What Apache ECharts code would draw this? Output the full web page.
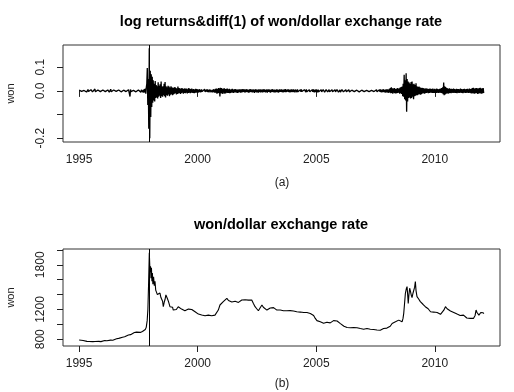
<!DOCTYPE html>
<html>
<head>
<meta charset="utf-8">
<script src="https://cdn.jsdelivr.net/npm/echarts@6/dist/echarts.min.js"></script>
<style>
  html, body { margin: 0; padding: 0; background: #fff; }
  #chart { width: 514px; height: 392px; }
</style>
</head>
<body>
<div id="chart"></div>
<script>
// log returns, weekly-ish (ts start 1995, frequency 48)
const retStart = 1995;
const retFreq = 48;
const logRet = [
  // 1995
  0.003,-0.004,0.002,-0.005,0.004,-0.002,0.001,-0.003,0.005,-0.004,0.002,-0.003,
  0.004,-0.002,0.003,-0.005,0.002,-0.004,0.006,-0.003,0.002,-0.004,0.003,-0.002,
  0.005,-0.003,0.001,-0.004,0.003,-0.005,0.002,-0.002,0.008,-0.004,0.003,-0.003,
  0.002,-0.005,0.004,-0.002,0.003,-0.004,0.005,-0.003,0.002,-0.004,0.003,-0.005,
  // 1996
  0.004,-0.002,0.003,-0.004,0.002,-0.003,0.005,-0.004,0.001,-0.003,0.004,-0.002,
  0.003,-0.005,0.002,-0.003,0.007,-0.004,0.002,-0.002,0.003,-0.005,0.004,-0.003,
  0.002,-0.004,0.005,-0.002,0.003,-0.003,0.002,-0.005,0.004,-0.003,0.006,-0.002,
  0.003,-0.004,0.002,-0.005,0.004,-0.003,0.003,-0.002,0.005,-0.004,0.002,-0.003,
  // 1997
  0.003,-0.004,0.002,-0.003,0.005,-0.002,0.004,-0.024,0.006,-0.003,0.002,-0.004,
  0.004,-0.003,0.002,-0.005,0.003,-0.002,0.006,-0.004,0.003,-0.003,0.002,-0.005,
  0.004,-0.002,0.005,-0.004,0.003,-0.006,0.004,-0.003,0.006,-0.005,0.004,-0.007,
  0.008,-0.006,0.010,-0.012,0.015,0.030,0.097,-0.060,0.050,-0.160,0.180,-0.200,
  // 1998
  0.085,-0.110,0.070,-0.068,0.060,-0.050,0.045,-0.040,0.030,-0.045,0.042,-0.030,
  0.025,-0.028,0.020,-0.032,0.036,-0.025,0.022,-0.020,0.028,-0.030,0.040,-0.022,
  0.018,-0.025,0.020,-0.018,0.030,-0.022,0.038,-0.028,0.020,-0.018,0.015,-0.020,
  0.022,-0.015,0.018,-0.022,0.014,-0.016,0.020,-0.014,0.015,-0.018,0.012,-0.015,
  // 1999
  0.014,-0.012,0.016,-0.010,0.012,-0.015,0.010,-0.013,0.018,-0.011,0.012,-0.009,
  0.011,-0.013,0.009,-0.010,0.012,-0.008,0.010,-0.012,0.008,-0.009,0.011,-0.010,
  0.009,-0.008,0.010,-0.011,0.007,-0.009,0.012,-0.008,0.009,-0.010,0.008,-0.007,
  0.010,-0.008,0.007,-0.009,0.008,-0.010,0.006,-0.008,0.009,-0.007,0.008,-0.006,
  // 2000
  0.006,-0.007,0.005,-0.004,0.007,-0.006,0.004,-0.005,0.006,-0.003,0.005,-0.006,
  0.004,-0.005,0.007,-0.004,0.003,-0.006,0.005,-0.004,0.006,-0.005,0.003,-0.004,
  0.005,-0.006,0.004,-0.003,0.006,-0.005,0.004,-0.006,0.007,-0.004,0.005,-0.008,
  0.009,-0.007,0.010,-0.012,0.008,-0.010,0.012,-0.009,0.011,-0.024,0.013,-0.010,
  // 2001
  0.012,-0.011,0.009,-0.013,0.010,-0.008,0.011,-0.012,0.008,-0.010,0.009,-0.007,
  0.010,-0.009,0.007,-0.008,0.009,-0.010,0.006,-0.008,0.007,-0.006,0.009,-0.007,
  0.006,-0.008,0.007,-0.005,0.008,-0.006,0.005,-0.007,0.006,-0.008,0.005,-0.006,
  0.007,-0.005,0.006,-0.007,0.005,-0.006,0.008,-0.005,0.006,-0.004,0.007,-0.006,
  // 2002
  0.005,-0.006,0.007,-0.004,0.006,-0.005,0.004,-0.007,0.005,-0.006,0.008,-0.004,
  0.006,-0.005,0.004,-0.006,0.007,-0.005,0.006,-0.008,0.005,-0.004,0.007,-0.006,
  0.004,-0.006,0.005,-0.007,0.006,-0.004,0.005,-0.006,0.007,-0.005,0.004,-0.006,
  0.006,-0.005,0.007,-0.004,0.005,-0.006,0.004,-0.005,0.006,-0.007,0.005,-0.004,
  // 2003
  0.006,-0.004,0.005,-0.007,0.004,-0.005,0.006,-0.004,0.007,-0.005,0.004,-0.006,
  0.005,-0.006,0.004,-0.005,0.006,-0.004,0.005,-0.007,0.004,-0.005,0.006,-0.004,
  0.005,-0.004,0.006,-0.005,0.004,-0.006,0.005,-0.004,0.006,-0.005,0.008,-0.004,
  0.004,-0.006,0.005,-0.004,0.006,-0.005,0.004,-0.006,0.005,-0.004,0.006,-0.005,
  // 2004
  0.005,-0.004,0.006,-0.005,0.004,-0.006,0.005,-0.003,0.004,-0.005,0.006,-0.004,
  0.004,-0.005,0.003,-0.006,0.005,-0.004,0.006,-0.003,0.004,-0.005,0.003,-0.004,
  0.005,-0.003,0.004,-0.005,0.006,-0.004,0.003,-0.005,0.004,-0.003,0.005,-0.004,
  0.003,-0.005,0.004,-0.006,0.005,-0.004,0.007,-0.005,0.004,-0.006,0.005,-0.004,
  // 2005
  0.006,-0.005,0.004,-0.006,0.005,-0.004,0.003,-0.005,0.004,-0.003,0.005,-0.004,
  0.003,-0.004,0.005,-0.003,0.004,-0.005,0.003,-0.004,0.005,-0.003,0.004,-0.004,
  0.004,-0.003,0.005,-0.004,0.003,-0.005,0.004,-0.003,0.005,-0.004,0.003,-0.005,
  0.004,-0.003,0.005,-0.004,0.003,-0.004,0.005,-0.003,0.004,-0.005,0.003,-0.004,
  // 2006
  0.004,-0.005,0.003,-0.004,0.005,-0.003,0.004,-0.004,0.003,-0.005,0.004,-0.003,
  0.005,-0.004,0.003,-0.004,0.004,-0.003,0.005,-0.004,0.003,-0.003,0.004,-0.005,
  0.003,-0.004,0.004,-0.003,0.005,-0.003,0.003,-0.004,0.004,-0.003,0.003,-0.004,
  0.004,-0.003,0.003,-0.004,0.003,-0.003,0.004,-0.003,0.003,-0.004,0.004,-0.003,
  // 2007
  0.003,-0.003,0.004,-0.002,0.003,-0.004,0.002,-0.003,0.003,-0.002,0.004,-0.003,
  0.002,-0.003,0.003,-0.004,0.002,-0.003,0.003,-0.002,0.003,-0.003,0.002,-0.003,
  0.004,-0.003,0.005,-0.004,0.003,-0.005,0.004,-0.006,0.005,-0.004,0.006,-0.005,
  0.004,-0.006,0.005,-0.004,0.007,-0.005,0.004,-0.006,0.005,-0.007,0.006,-0.005,
  // 2008
  0.006,-0.007,0.005,-0.008,0.009,-0.006,0.012,-0.010,0.015,-0.009,0.011,-0.012,
  0.010,-0.008,0.012,-0.010,0.009,-0.011,0.008,-0.010,0.012,-0.009,0.010,-0.008,
  0.011,-0.012,0.014,-0.010,0.016,-0.013,0.018,-0.022,0.030,-0.025,0.068,-0.035,
  0.045,-0.040,0.075,-0.088,0.050,-0.045,0.040,-0.030,0.035,-0.028,0.030,-0.032,
  // 2009
  0.038,-0.030,0.040,-0.025,0.028,-0.035,0.030,-0.022,0.025,-0.020,0.032,-0.018,
  0.020,-0.018,0.016,-0.015,0.018,-0.014,0.015,-0.016,0.012,-0.014,0.013,-0.011,
  0.012,-0.010,0.011,-0.012,0.009,-0.010,0.011,-0.009,0.010,-0.008,0.009,-0.010,
  0.008,-0.009,0.010,-0.008,0.009,-0.007,0.008,-0.009,0.010,-0.008,0.007,-0.009,
  // 2010
  0.009,-0.008,0.007,-0.009,0.010,-0.007,0.008,-0.009,0.007,-0.008,0.009,-0.007,
  0.010,-0.009,0.012,-0.010,0.015,-0.014,0.035,-0.018,0.020,-0.015,0.016,-0.012,
  0.012,-0.010,0.011,-0.012,0.009,-0.010,0.011,-0.009,0.008,-0.010,0.009,-0.008,
  0.008,-0.009,0.010,-0.007,0.008,-0.009,0.007,-0.008,0.009,-0.010,0.008,-0.007,
  // 2011
  0.008,-0.009,0.007,-0.008,0.010,-0.007,0.008,-0.009,0.007,-0.010,0.008,-0.007,
  0.009,-0.008,0.007,-0.009,0.008,-0.007,0.009,-0.008,0.007,-0.009,0.010,-0.008,
  0.008,-0.010,0.009,-0.011,0.012,-0.010,0.013,-0.011,0.010,-0.012,0.011,-0.009,
  0.012,-0.010,0.011,-0.013,0.010,-0.011,0.012,-0.010,0.013,-0.011,0.010,-0.012,
  // 2012
  0.011,-0.010,0.012,-0.009
];

// won/dollar level
const rateTime = [
  1995.00,1995.08,1995.17,1995.25,1995.33,1995.42,1995.50,1995.58,1995.67,1995.75,1995.83,1995.92,
  1996.00,1996.08,1996.17,1996.25,1996.33,1996.42,1996.50,1996.58,1996.67,1996.75,1996.83,1996.92,
  1997.00,1997.08,1997.17,1997.25,1997.33,1997.42,1997.50,1997.58,1997.67,1997.75,1997.79,1997.83,1997.87,1997.90,1997.93,1997.96,1997.99,
  1998.01,1998.03,1998.05,1998.07,1998.09,1998.11,1998.14,1998.17,1998.20,1998.23,1998.27,1998.30,1998.34,1998.38,1998.41,1998.45,1998.48,
  1998.52,1998.55,1998.59,1998.62,1998.66,1998.70,1998.73,1998.77,1998.80,1998.83,1998.87,1998.90,1998.94,1998.97,
  1999.04,1999.10,1999.18,1999.25,1999.32,1999.39,1999.46,1999.54,1999.61,1999.68,1999.75,1999.82,1999.89,1999.96,
  2000.03,2000.10,2000.17,2000.24,2000.31,2000.38,2000.45,2000.52,2000.59,2000.66,2000.73,2000.80,2000.87,2000.94,
  2001.01,2001.08,2001.15,2001.23,2001.30,2001.37,2001.44,2001.51,2001.58,2001.65,2001.72,2001.79,2001.86,2001.93,
  2002.00,2002.07,2002.14,2002.21,2002.28,2002.35,2002.42,2002.49,2002.56,2002.63,2002.71,2002.77,2002.85,2002.92,2002.99,
  2003.06,2003.13,2003.20,2003.27,2003.34,2003.41,2003.48,2003.55,2003.62,2003.69,2003.76,2003.83,2003.90,2003.97,
  2004.04,2004.11,2004.18,2004.26,2004.33,2004.40,2004.47,2004.54,2004.61,2004.68,2004.75,2004.82,2004.89,2004.96,
  2005.03,2005.10,2005.17,2005.24,2005.31,2005.38,2005.45,2005.52,2005.59,2005.66,2005.73,2005.81,2005.88,2005.95,
  2006.02,2006.10,2006.17,2006.24,2006.30,2006.37,2006.44,2006.51,2006.58,2006.65,2006.72,2006.79,2006.86,2006.93,
  2007.00,2007.07,2007.14,2007.21,2007.28,2007.35,2007.42,2007.49,2007.56,2007.63,2007.70,2007.77,2007.84,2007.91,2007.98,
  2008.05,2008.12,2008.20,2008.27,2008.34,2008.41,2008.48,2008.55,2008.62,2008.66,2008.69,2008.73,2008.76,2008.80,2008.83,2008.86,2008.88,2008.91,2008.94,2008.97,
  2009.01,2009.04,2009.08,2009.11,2009.15,2009.18,2009.21,2009.25,2009.29,2009.32,2009.36,2009.39,2009.43,2009.46,2009.50,2009.53,2009.57,2009.60,2009.64,2009.68,2009.72,2009.75,2009.79,2009.82,2009.88,2009.95,
  2010.02,2010.10,2010.17,2010.24,2010.31,2010.38,2010.45,2010.52,2010.59,2010.66,2010.73,2010.80,2010.87,2010.94,
  2011.00,2011.07,2011.14,2011.21,2011.28,2011.35,2011.42,2011.49,2011.56,2011.63,2011.70,2011.74,2011.78,2011.82,2011.86,2011.90,2011.94,
  2012.00,2012.04,2012.07
];
const rateWon = [
  790,788,784,778,772,770,766,768,770,772,772,768,
  782,784,780,786,788,786,800,806,812,822,828,834,
  846,858,862,876,890,896,890,892,904,912,930,960,1050,1200,1550,1962,1700,
  1780,1620,1760,1580,1690,1540,1640,1520,1580,1460,1480,1400,1420,1390,1420,1360,1380,
  1310,1237,1300,1330,1395,1380,1340,1305,1280,1237,1260,1220,1230,1192,
  1169,1200,1237,1220,1205,1190,1183,1192,1205,1215,1200,1192,1169,1147,
  1138,1130,1125,1118,1115,1120,1124,1118,1115,1120,1124,1140,1192,1260,
  1270,1305,1290,1350,1320,1305,1300,1315,1310,1290,1295,1310,1327,1320,
  1330,1340,1325,1330,1327,1280,1237,1210,1183,1220,1260,1230,1205,1192,1210,
  1220,1237,1225,1215,1192,1205,1192,1185,1183,1175,1183,1170,1185,1192,
  1180,1175,1169,1175,1165,1169,1160,1156,1160,1150,1147,1145,1120,1080,
  1050,1040,1034,1020,1015,1012,1028,1034,1020,1040,1050,1057,1045,1034,
  1010,989,975,970,958,962,955,960,958,950,955,948,944,940,
  935,944,944,940,935,932,931,928,925,924,922,930,944,935,950,
  958,975,1012,1000,1034,1045,1057,1050,1034,1080,1147,1300,1418,1480,1507,1380,1282,1400,1485,1450,
  1390,1360,1418,1440,1500,1574,1450,1372,1390,1340,1320,1305,1290,1282,1270,1282,1260,1237,1245,1237,1210,1200,1192,1169,1180,1165,
  1170,1160,1145,1135,1124,1190,1237,1210,1192,1180,1170,1160,1150,1138,
  1130,1120,1128,1124,1100,1085,1080,1080,1070,1080,1120,1192,1160,1140,1124,1150,1160,
  1145,1155,1145
];

const xTicks = [1995, 2000, 2005, 2010];
const retTicks = [-0.2, -0.1, 0, 0.1];
const retLabels = [-0.2, 0, 0.1];
const wonTicks = [800, 1000, 1200, 1400, 1600, 1800, 2000];
const wonLabels = [800, 1200, 1800];
const crisisLine = 1997.97;

const retData = logRet.map((v, i) => [retStart + i / retFreq, v]);
const rateData = rateTime.map((t, i) => [t, rateWon[i]]);

const chart = echarts.init(document.getElementById('chart'));
const font = '"Liberation Sans", Arial, sans-serif';
const ink = '#222';

function xAxisOf(idx) {
  return {
    type: 'value', gridIndex: idx, min: 1994.32, max: 2012.75,
    axisLine: { show: false },
    splitLine: { show: false },
    axisTick: { show: true, length: 6, customValues: xTicks, lineStyle: { color: ink } },
    axisLabel: { customValues: xTicks, margin: 12, fontFamily: font, fontSize: 12, color: ink,
      formatter: v => String(v) }
  };
}
function yAxisOf(idx, min, max, ticks, labels, fmt) {
  return {
    type: 'value', gridIndex: idx, min: min, max: max,
    name: 'won', nameLocation: 'middle', nameGap: 47, nameRotate: 90,
    nameTextStyle: { fontFamily: font, fontSize: 11, color: ink },
    axisLine: { show: false },
    splitLine: { show: false },
    axisTick: { show: true, length: 6, customValues: ticks, lineStyle: { color: ink } },
    axisLabel: {
      customValues: labels, rotate: 90, margin: 16, align: 'center', verticalAlign: 'bottom',
      fontFamily: font, fontSize: 12, color: ink, formatter: fmt
    }
  };
}
const vline = {
  symbol: 'none', silent: true, label: { show: false },
  lineStyle: { color: '#000', width: 1, type: 'solid' },
  data: [{ xAxis: crisisLine }]
};

chart.setOption({
  animation: false,
  backgroundColor: '#fff',
  grid: [
    { left: 63, top: 45, width: 437, height: 97, containLabel: false, outerBoundsMode: 'none',
      show: true, borderColor: '#333', borderWidth: 1 },
    { left: 63, top: 249, width: 437, height: 97, containLabel: false, outerBoundsMode: 'none',
      show: true, borderColor: '#333', borderWidth: 1 }
  ],
  xAxis: [xAxisOf(0), xAxisOf(1)],
  yAxis: [
    yAxisOf(0, -0.216, 0.194, retTicks, retLabels, v => v.toFixed(1)),
    yAxisOf(1, 709.5, 2012, wonTicks, wonLabels, v => String(v))
  ],
  graphic: [
    { type: 'text', style: { text: 'log returns&diff(1) of won/dollar exchange rate', x: 281, y: 22, align: 'center', verticalAlign: 'middle', font: 'bold 14.5px ' + font, fill: '#000' } },
    { type: 'text', style: { text: '(a)', x: 282, y: 183, align: 'center', verticalAlign: 'middle', font: '12px ' + font, fill: ink } },
    { type: 'text', style: { text: 'won/dollar exchange rate', x: 281, y: 225, align: 'center', verticalAlign: 'middle', font: 'bold 14.5px ' + font, fill: '#000' } },
    { type: 'text', style: { text: '(b)', x: 282, y: 384, align: 'center', verticalAlign: 'middle', font: '12px ' + font, fill: ink } }
  ],
  series: [
    {
      type: 'line', xAxisIndex: 0, yAxisIndex: 0, data: retData, showSymbol: false,
      lineStyle: { color: '#000', width: 1.3 }, markLine: vline
    },
    {
      type: 'line', xAxisIndex: 1, yAxisIndex: 1, data: rateData, showSymbol: false,
      lineStyle: { color: '#000', width: 1.1 }, markLine: vline
    }
  ]
});
</script>
</body>
</html>
